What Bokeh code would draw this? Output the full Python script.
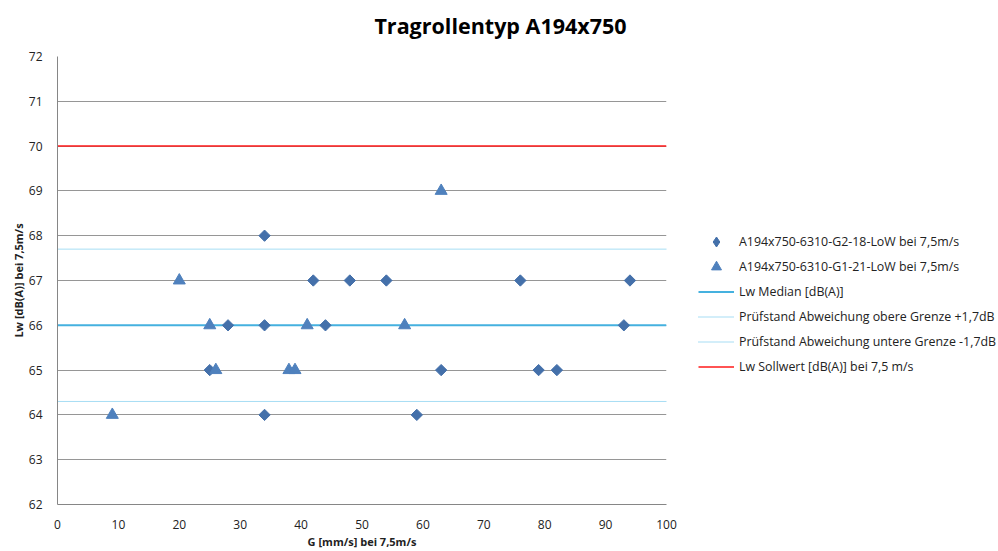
import numpy as np
from bokeh.plotting import figure
from bokeh.layouts import row, column
from bokeh.models import Legend, LegendItem, SingleIntervalTicker, Range1d, Label
from bokeh.embed import file_html
from bokeh.resources import INLINE

# ---- data ----
g2_x = [34, 34, 34, 42, 48, 54, 76, 94, 28, 44, 93, 25, 63, 79, 82, 59]
g2_y = [68, 66, 64, 67, 67, 67, 67, 67, 66, 66, 66, 65, 65, 65, 65, 64]
g1_x = [9, 20, 25, 26, 38, 39, 41, 57, 63]
g1_y = [64, 67, 66, 65, 65, 65, 66, 66, 69]
line_x = [0, 100]
median = 66.0
upper_limit = 67.7
lower_limit = 64.3
sollwert = 70.0

title_text = "Tragrollentyp A194x750"
x_label = "G [mm/s] bei 7,5m/s"
y_label = "Lw [dB(A)] bei 7,5m/s"
names = [
    "A194x750-6310-G2-18-LoW bei 7,5m/s",
    "A194x750-6310-G1-21-LoW bei 7,5m/s",
    "Lw Median [dB(A)]",
    "Prüfstand Abweichung obere Grenze +1,7dB",
    "Prüfstand Abweichung untere Grenze -1,7dB",
    "Lw Sollwert [dB(A)] bei 7,5 m/s",
]

FONT = "Open Sans"

# styles
S_G2 = dict(marker="square", angle=np.pi / 4, size=8, fill_color="#4470AA", line_color="#4470AA")
S_G2_KEY = dict(marker="diamond", size=12, fill_color="#4470AA", line_color="#4470AA")
S_G1 = dict(marker="triangle", size=12, fill_color="#4F81BD", line_color="#4F81BD")
S_MED = dict(line_color="#45B1DF", line_width=2)
S_UP = dict(line_color="#4FBBE8", line_width=1, line_dash="1 1")
S_LO = dict(line_color="#4FBBE8", line_width=1, line_dash="1 1")
S_SOLL = dict(line_color="#FF1A1A", line_width=1.5)


def add_series(fig, g2_style):
    r_med = fig.line(line_x, [median, median], **S_MED)
    r_up = fig.line(line_x, [upper_limit, upper_limit], **S_UP)
    r_lo = fig.line(line_x, [lower_limit, lower_limit], **S_LO)
    r_soll = fig.line(line_x, [sollwert, sollwert], **S_SOLL)
    r_g2 = fig.scatter(g2_x, g2_y, **g2_style)
    r_g1 = fig.scatter(g1_x, g1_y, **S_G1)
    return [r_g2, r_g1, r_med, r_up, r_lo, r_soll]


def blank(width, height):
    f = figure(width=width, height=height, output_backend="svg", toolbar_location=None,
               x_range=Range1d(-20, -10), y_range=Range1d(0, 1),
               x_axis_location=None, y_axis_location=None,
               min_border_left=0, min_border_right=0, min_border_top=0, min_border_bottom=0)
    f.outline_line_color = None
    f.grid.visible = False
    return f


# title strip
t = blank(998, 48)
t.add_layout(Label(x=500, y=23, x_units="screen", y_units="screen", text=title_text,
                   text_align="center", text_baseline="middle", text_font=FONT,
                   text_font_size="21.5px", text_font_style="bold", text_color="#000000"))

# main chart
p = figure(width=680, height=503, output_backend="svg", toolbar_location=None,
           x_range=Range1d(0, 100), y_range=Range1d(62, 72),
           min_border_left=57, min_border_right=14, min_border_top=8, min_border_bottom=46)
p.outline_line_color = None

p.xaxis.ticker = SingleIntervalTicker(interval=10)
p.yaxis.ticker = SingleIntervalTicker(interval=1)
for ax in (p.xaxis[0], p.yaxis[0]):
    ax.axis_line_color = "#868686"
    ax.major_tick_line_color = None
    ax.minor_tick_line_color = None
    ax.major_label_text_font = FONT
    ax.major_label_text_font_size = "12px"
    ax.major_label_text_color = "#222222"
    ax.axis_label_text_font = FONT
    ax.axis_label_text_font_size = "11px"
    ax.axis_label_text_font_style = "bold"
    ax.axis_label_text_color = "#222222"
p.xaxis.axis_label = x_label
p.yaxis.axis_label = y_label
p.xaxis.major_label_standoff = 9
p.xaxis.axis_label_standoff = 2
p.yaxis.major_label_standoff = 9
p.yaxis.axis_label_standoff = 0

p.xgrid.grid_line_color = None
p.ygrid.grid_line_color = "#969696"
p.ygrid.grid_line_width = 1

add_series(p, S_G2)

# legend panel: its copies of the series lie outside its view range,
# so they only supply the legend keys
q = blank(318, 503)
keys = add_series(q, S_G2_KEY)

legend = Legend(items=[LegendItem(label=n, renderers=[r]) for n, r in zip(names, keys)],
                location=(18, 125))
legend.border_line_color = None
legend.background_fill_alpha = 0
legend.padding = 0
legend.margin = 0
legend.spacing = 0
legend.glyph_width = 36
legend.glyph_height = 25
legend.label_height = 25
legend.label_standoff = 5
legend.label_text_font = FONT
legend.label_text_font_size = "12.4px"
legend.label_text_color = "#222222"
q.add_layout(legend)

layout = column(t, row(p, q))
open("out.html", "w").write(file_html(layout, INLINE))
